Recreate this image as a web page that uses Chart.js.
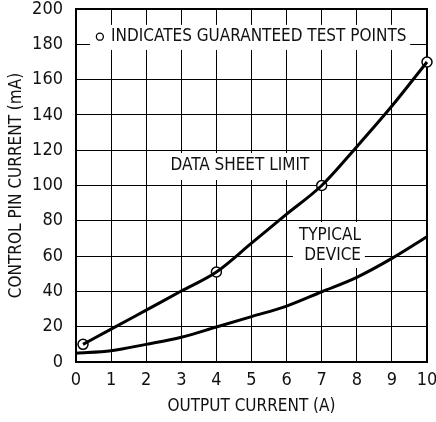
<!DOCTYPE html>
<html>
<head>
<meta charset="utf-8">
<script src="https://cdn.jsdelivr.net/npm/chart.js@4/dist/chart.umd.min.js"></script>
<style>
  html, body { margin: 0; padding: 0; background: #fff; }
  #wrap { width: 436px; height: 422px; }
</style>
</head>
<body>
<div id="wrap"><canvas id="chart"></canvas></div>
<script>
const FONT = '"Liberation Sans Narrow", "DejaVu Sans Condensed", sans-serif';

// Data sheet limit (control pin current, mA, vs output current, A)
const limitX = [0.2, 1, 2, 3, 4, 5, 6, 7, 8, 9, 10];
const limitY = [10, 18.6, 29.4, 40.2, 51, 67.3, 83.8, 100, 122, 145, 170];

// Typical device
const typicalX = [0, 1, 2, 3, 4, 5, 6, 7, 8, 9, 10];
const typicalY = [5, 6.4, 10, 14, 19.8, 25.7, 31.7, 39.8, 48, 58.7, 71];

// Guaranteed test points
const testX = [0.2, 4, 7, 10];
const testY = [10, 51, 100, 170];

const xTickValues = [0, 1, 2, 3, 4, 5, 6, 7, 8, 9, 10];
const yTickValues = [0, 20, 40, 60, 80, 100, 120, 140, 160, 180, 200];

// text labels placed in data units, with a white box behind them
const notes = [
  { lines: ["INDICATES GUARANTEED TEST POINTS"], x: 1.0, y: 184.1, align: "left",
    box: [0.4, 191, 9.52, 176.8], marker: [0.68, 184.3] },
  { lines: ["DATA SHEET LIMIT"], x: 4.67, y: 111.3, align: "center",
    box: [2.54, 118.4, 6.81, 103.1] },
  { lines: ["TYPICAL", "DEVICE"], x: 8.12, y: 71.7, align: "right", lineStep: 11.2,
    box: [6.18, 79.3, 8.23, 53.3] }
];

function pairs(xs, ys) {
  return xs.map((x, i) => ({ x: x, y: ys[i] }));
}

// keep the plot area fixed: no extra room for overhanging tick labels
function noPad(s) {
  s.paddingTop = 0; s.paddingBottom = 0; s.paddingLeft = 0; s.paddingRight = 0;
}

const notesPlugin = {
  id: "notes",
  beforeDatasetsDraw(chart) {
    const ctx = chart.ctx;
    const xs = chart.scales.x, ys = chart.scales.y;
    ctx.save();
    notes.forEach(n => {
      const x0 = xs.getPixelForValue(n.box[0]), y0 = ys.getPixelForValue(n.box[1]);
      const x1 = xs.getPixelForValue(n.box[2]), y1 = ys.getPixelForValue(n.box[3]);
      ctx.fillStyle = "#fff";
      ctx.fillRect(x0, y0, x1 - x0, y1 - y0);
      ctx.fillStyle = "#111";
      ctx.font = "17px " + FONT;
      ctx.textAlign = n.align;
      ctx.textBaseline = "middle";
      n.lines.forEach((t, i) => {
        ctx.fillText(t, xs.getPixelForValue(n.x), ys.getPixelForValue(n.y - i * (n.lineStep || 0)));
      });
      if (n.marker) {
        ctx.beginPath();
        ctx.arc(xs.getPixelForValue(n.marker[0]), ys.getPixelForValue(n.marker[1]), 3.5, 0, Math.PI * 2);
        ctx.lineWidth = 1.3;
        ctx.strokeStyle = "#000";
        ctx.stroke();
      }
    });
    // plot frame
    const a = chart.chartArea;
    ctx.lineWidth = 2;
    ctx.strokeStyle = "#000";
    ctx.strokeRect(a.left, a.top, a.right - a.left, a.bottom - a.top);
    ctx.restore();
  }
};

new Chart(document.getElementById("chart"), {
  type: "line",
  data: {
    datasets: [
      {
        label: "Data Sheet Limit",
        data: pairs(limitX, limitY),
        borderColor: "#000",
        borderWidth: 3,
        pointRadius: 0,
        cubicInterpolationMode: "monotone",
        clip: false
      },
      {
        label: "Typical Device",
        data: pairs(typicalX, typicalY),
        borderColor: "#000",
        borderWidth: 3,
        pointRadius: 0,
        cubicInterpolationMode: "monotone",
        clip: false
      },
      {
        label: "Test Points",
        data: pairs(testX, testY),
        showLine: false,
        pointRadius: 5,
        pointBackgroundColor: "#fff",
        pointBorderColor: "#000",
        pointBorderWidth: 1.5,
        clip: false
      }
    ]
  },
  options: {
    responsive: true,
    maintainAspectRatio: false,
    animation: false,
    events: [],
    layout: { padding: { top: 9, right: 9, left: 0, bottom: 0 } },
    plugins: { legend: { display: false }, tooltip: { enabled: false } },
    scales: {
      x: {
        type: "linear",
        min: 0,
        max: 10,
        afterBuildTicks: s => { s.ticks = xTickValues.map(v => ({ value: v })); },
        afterFit: s => { s.height = 60; noPad(s); },
        grid: { color: "#000", lineWidth: 1, drawTicks: false },
        border: { display: false },
        ticks: { color: "#111", padding: 8, font: { family: FONT, size: 18 } },
        title: { display: true, text: "OUTPUT CURRENT (A)", color: "#111",
                 font: { family: FONT, size: 17 }, padding: { top: 0, bottom: 5 } }
      },
      y: {
        type: "linear",
        min: 0,
        max: 200,
        afterBuildTicks: s => { s.ticks = yTickValues.map(v => ({ value: v })); },
        afterFit: s => { s.width = 76; noPad(s); },
        grid: { color: "#000", lineWidth: 1, drawTicks: false },
        border: { display: false },
        ticks: { color: "#111", padding: 13, font: { family: FONT, size: 18 } },
        title: { display: true, text: "CONTROL PIN CURRENT (mA)", color: "#111",
                 font: { family: FONT, size: 17 }, padding: { top: 6, bottom: 0 } }
      }
    }
  },
  plugins: [notesPlugin]
});
</script>
</body>
</html>
